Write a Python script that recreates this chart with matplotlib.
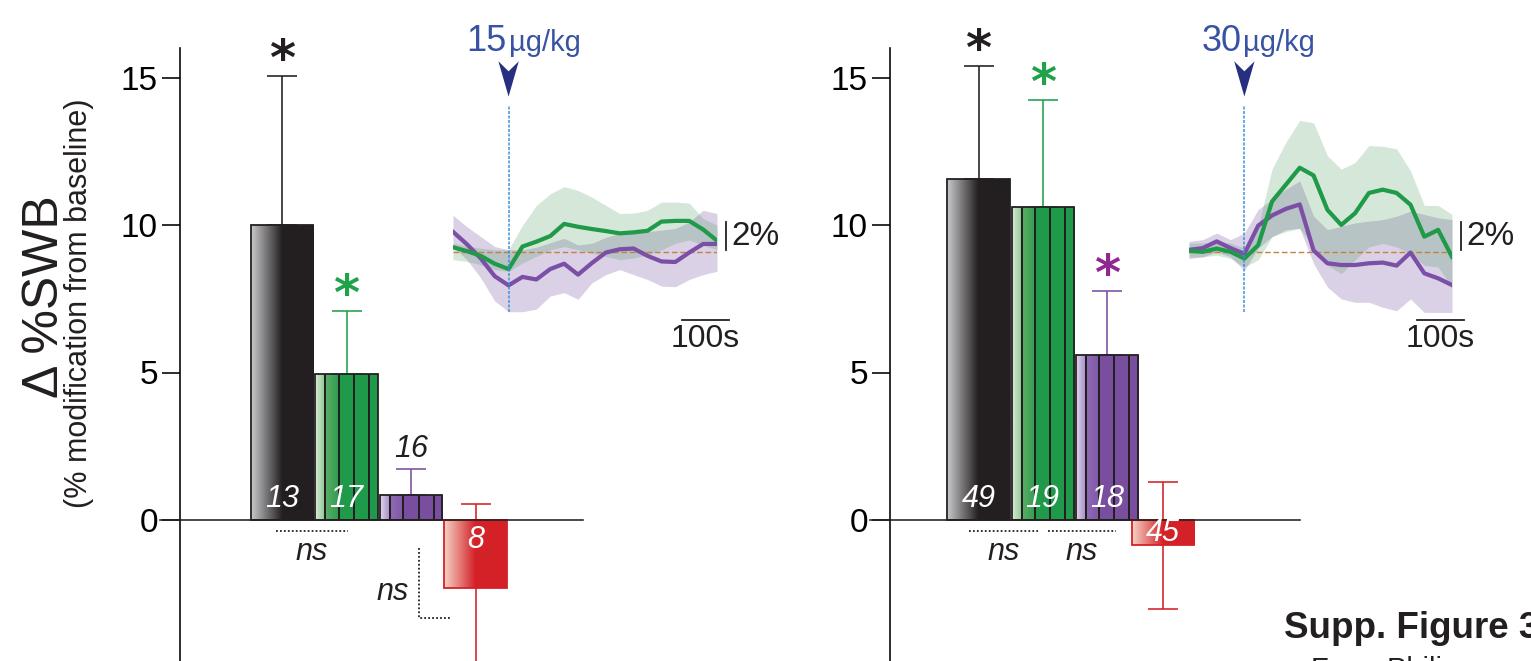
import numpy as np
import matplotlib
matplotlib.use("Agg")
import matplotlib.pyplot as plt
from matplotlib.colors import to_rgb
from matplotlib.patches import Polygon

plt.rcParams['font.family'] = ['Liberation Sans', 'DejaVu Sans']

# ---------------- data ----------------
bar_groups = ["black", "green", "purple", "red"]

dose15_label = "15"
dose15_mean = [10.0, 4.95, 0.85, -2.3]
dose15_sem = [5.05, 2.15, 0.88, 2.85]
dose15_n = ["13", "17", "16", "8"]
dose15_sig = [True, True, False, False]

dose30_label = "30"
dose30_mean = [11.55, 10.6, 5.6, -0.85]
dose30_sem = [3.85, 3.65, 2.15, 2.15]
dose30_n = ["49", "19", "18", "45"]
dose30_sig = [True, True, True, False]

ytick_values = [0, 5, 10, 15]

# inset time courses (% change of SWB), 30 s bins, injection at t = 0
trace_time = [-120, -90, -60, -30, 0, 30, 60, 90, 120, 150,
              180, 210, 240, 270, 300, 330, 360, 390, 420, 450]

green15 = [0.32, 0.05, -0.28, -0.83, -1.20, 0.37, 0.71, 1.10, 1.95, 1.75,
           1.59, 1.45, 1.29, 1.36, 1.47, 2.11, 2.16, 2.16, 1.56, 0.78]
green15_hi = [0.60, 0.41, 0.25, 0.14, 0.14, 1.86, 3.24, 4.05, 4.55, 4.28,
              3.82, 3.24, 2.67, 2.71, 2.90, 3.47, 3.47, 3.40, 2.32, 1.86]
green15_lo = [-0.55, -0.67, -0.90, -1.24, -1.36, -0.78, -0.32, 0.14, 0.37, 0.14,
              -0.09, -0.32, -0.55, -0.44, -0.21, 0.14, 0.60, 0.83, 0.48, 0.14]
purple15 = [1.40, 0.53, -0.46, -1.70, -2.34, -1.75, -1.93, -1.20, -0.83, -1.59,
            -0.78, -0.05, 0.18, 0.23, -0.28, -0.67, -0.71, -0.05, 0.55, 0.55]
purple15_hi = [2.55, 1.75, 1.06, 0.37, 0.14, 0.14, 0.32, 0.64, 0.94, 0.48,
               0.60, 1.01, 1.29, 1.33, 1.40, 1.52, 1.63, 2.09, 2.90, 2.67]
purple15_lo = [0.37, -0.55, -1.82, -3.43, -4.18, -4.18, -4.00, -3.08, -2.85, -3.31,
               -2.16, -1.59, -1.24, -1.59, -1.93, -2.39, -2.44, -1.93, -1.59, -1.36]

green30 = [0.07, 0.00, 0.23, 0.00, -0.47, 0.47, 3.52, 4.69, 5.87, 5.33,
           2.93, 1.88, 2.70, 4.11, 4.34, 4.11, 3.29, 1.06, 1.53, -0.35]
green30_hi = [0.61, 0.61, 0.73, 0.61, 0.26, 1.78, 5.77, 7.65, 9.18, 9.01,
              6.71, 5.77, 6.24, 7.42, 7.37, 7.18, 5.66, 3.24, 3.24, 2.61]
green30_lo = [-0.35, -0.35, -0.23, -0.47, -1.06, -0.56, 1.06, 1.41, 1.64, 0.35,
              -0.94, -1.53, -0.56, 0.35, 0.59, 0.35, -0.12, -0.94, -1.06, -2.46]
purple30 = [0.14, 0.26, 0.73, 0.26, -0.14, 1.83, 2.54, 3.00, 3.31, 0.10,
            -0.80, -0.92, -0.92, -0.80, -0.75, -0.96, -0.05, -1.50, -1.85, -2.32]
purple30_hi = [0.73, 0.85, 1.31, 0.85, 1.31, 2.96, 3.66, 4.37, 4.95, 2.49,
               1.55, 1.78, 2.02, 2.14, 2.25, 2.49, 2.84, 2.61, 2.37, 2.25]
purple30_lo = [-0.47, -0.35, 0.00, -0.35, -1.29, 0.26, 1.06, 1.55, 1.64, -0.82,
               -2.46, -3.29, -3.52, -3.52, -3.87, -4.11, -3.29, -4.23, -4.23, -4.23]

# ---------------- styles ----------------
W, H = 1531, 661
fig = plt.figure(figsize=(W / 100, H / 100), dpi=100)
PT = 72 / 100  # points per pixel

star_col = {"black": "#231f20", "green": "#1fa24a", "purple": "#92278f", "red": "#d42128"}
err_col = {"black": "#231f20", "green": "#22a04b", "purple": "#7b4fa0", "red": "#d42128"}
grad = {
    "black": [(0, "#c9cacc"), (0.5, "#231f20"), (1, "#231f20")],
    "green": [(0, "#d9ecd9"), (0.16, "#8cc590"), (0.1601, "#5cae66"), (0.38, "#2f9c50"),
              (0.3801, "#1f9a4a"), (1, "#1f9a4a")],
    "purple": [(0, "#e0d6ec"), (0.16, "#a58bc6"), (0.1601, "#8e6bb5"), (0.38, "#7f56a6"),
               (0.3801, "#7a4e9f"), (1, "#7a4e9f")],
    "red": [(0, "#f6d3c6"), (0.5, "#d42128"), (1, "#d42128")],
}
edge = {"black": "#231f20", "green": "#231f20", "purple": "#231f20", "red": "#d42128"}
stripes = {"black": [], "green": [0.16, 0.38, 0.62, 0.86],
           "purple": [0.16, 0.38, 0.62, 0.86], "red": []}


def add_axes_px(x0, y0, x1, y1):
    return fig.add_axes([x0 / W, 1 - y1 / H, (x1 - x0) / W, (y1 - y0) / H])


def grad_img(stops, n=256):
    f = np.linspace(0, 1, n)
    xs = [s[0] for s in stops]
    cols = np.array([to_rgb(s[1]) for s in stops])
    img = np.stack([np.interp(f, xs, cols[:, k]) for k in range(3)], axis=-1)
    return img[None, :, :]


def draw_panel(ax, pos, means, sems, ns_labels, sigs, xlim, ylim, width=0.97):
    ax.set_xlim(*xlim)
    ax.set_ylim(*ylim)
    for sp in ["top", "right", "bottom"]:
        ax.spines[sp].set_visible(False)
    ax.spines["left"].set_linewidth(1.6 * PT)
    ax.set_xticks([])
    ax.set_yticks(ytick_values)
    ax.set_yticklabels([str(v) for v in ytick_values])
    ax.tick_params(axis="y", length=18 * PT, width=1.6 * PT, labelsize=24, pad=3)
    ax.patch.set_alpha(0)
    # zero line extending left of the spine
    ext = (xlim[1] - xlim[0]) * 20 / (ax.get_position().width * W)
    ax.plot([xlim[0] - ext, xlim[1]], [0, 0], color="#231f20", lw=1.6 * PT,
            clip_on=False, zorder=4)
    for g, x, m, s, n, sig in zip(bar_groups, pos, means, sems, ns_labels, sigs):
        yerr = [[0], [s]] if m > 0 else [[s], [s]]
        ax.errorbar([x], [m], yerr=yerr, fmt="none", ecolor=err_col[g],
                    elinewidth=1.6 * PT, capsize=15 * PT, capthick=1.6 * PT,
                    zorder=1, clip_on=False)
        b = ax.bar([x], [m], width=width, facecolor="none", edgecolor=edge[g],
                   linewidth=1.8 * PT, zorder=3)[0]
        x0 = x - width / 2
        im = ax.imshow(grad_img(grad[g]), extent=[x0, x0 + width, min(0, m), max(0, m)],
                       aspect="auto", interpolation="bilinear", zorder=2)
        im.set_clip_path(b)
        for f in stripes[g]:
            ax.vlines(x0 + f * width, 0, m, color="#231f20", lw=2.0 * PT, zorder=3)
        if m > 2:
            ax.text(x, 0.72, n, color="white", style="italic", fontsize=22,
                    ha="center", va="center", zorder=5)
        elif m > 0:
            ax.annotate(n, (x, m + s), xytext=(0, 20 * PT), textcoords="offset points",
                        style="italic", fontsize=22, ha="center", va="center",
                        color="#231f20")
        else:
            ax.text(x, max(m / 2, -0.68), n, color="white", style="italic",
                    fontsize=22, ha="center", va="center", zorder=5)
        if sig:
            ax.annotate("*", (x, m + s), xytext=(0, 15 * PT), textcoords="offset points",
                        fontsize=36, family="DejaVu Sans", weight="bold",
                        ha="center", va="center", color=star_col[g],
                        annotation_clip=False)
    ax.set_xlim(*xlim)
    ax.set_ylim(*ylim)


def ns_mark(ax, xa, xb, y=-0.37):
    ax.plot([xa, xb], [y, y], ls=(0, (1, 1.2)), color="#231f20", lw=1.8 * PT,
            clip_on=False, zorder=4)
    ax.text((xa + xb) / 2, y - 0.72, "ns", style="italic", fontsize=22,
            ha="center", va="center", color="#231f20")


def draw_inset(axi, g, glo, ghi, p, plo, phi, dose, label_dx):
    t = trace_time
    axi.fill_between(t, plo, phi, color="#7b5aa8", alpha=0.28, lw=0, zorder=1)
    axi.fill_between(t, glo, ghi, color="#2e8b3e", alpha=0.2, lw=0, zorder=2)
    axi.axhline(0, color="#c8803e", lw=1.4 * PT, ls=(0, (4, 2)), zorder=3)
    axi.plot(t, p, color="#7b4fa6", lw=4.2 * PT, zorder=4)
    axi.plot(t, g, color="#1f9a48", lw=4.2 * PT, zorder=5)
    axi.axvline(0, color="#3d8fd6", lw=1.5 * PT, ls=(0, (2, 1)), zorder=6)
    axi.set_xlim(t[0], t[-1])
    axi.set_ylim(-4.2, 10.25)
    axi.axis("off")
    # arrow head above injection line
    axi.add_patch(Polygon([(-22, 13.3), (0, 12.6), (22, 13.3), (0, 10.84)],
                          closed=True, color="#262f80", clip_on=False, lw=0))
    axi.text(label_dx, 14.0, dose, color="#3953a4", fontsize=26, ha="right",
             va="baseline", clip_on=False)
    axi.text(label_dx + 4, 14.0, "µg/kg", color="#3953a4", fontsize=21, ha="left",
             va="baseline", clip_on=False)
    # scale bars
    xs = t[-1] + 20
    axi.plot([xs, xs], [0.1, 2.1], color="#231f20", lw=1.8 * PT, clip_on=False)
    axi.text(xs + 12, 1.1, "2%", fontsize=24, ha="left", va="center",
             color="#231f20", clip_on=False)
    axi.plot([t[-1] - 75, t[-1] + 25], [-4.75, -4.75], color="#231f20",
             lw=1.8 * PT, clip_on=False)
    axi.text(t[-1] - 25, -5.05, "100s", fontsize=23, ha="center", va="top",
             color="#231f20", clip_on=False)


ylim_main = (-141 / 29.5, 472 / 29.5)

# ---------------- left panel (15 µg/kg) ----------------
ax1 = add_axes_px(180, 48, 583, 661)
pos1 = [0, 1, 2, 3]
draw_panel(ax1, pos1, dose15_mean, dose15_sem, dose15_n, dose15_sig,
           (-102 / 64.5, 301 / 64.5), ylim_main)
ns_mark(ax1, -0.09, 1.02)
ax1.plot([2.12, 2.12, 2.6], [-0.95, -3.32, -3.32], ls=(0, (1, 1.2)), color="#231f20",
         lw=1.8 * PT, clip_on=False)
ax1.text(1.71, -2.44, "ns", style="italic", fontsize=22, ha="center", va="center",
         color="#231f20")

# ---------------- right panel (30 µg/kg) ----------------
ax2 = add_axes_px(890, 48, 1300, 661)
pos2 = [0, 1, 2, 2.87]
draw_panel(ax2, pos2, dose30_mean, dose30_sem, dose30_n, dose30_sig,
           ((890 - 978.5) / 64.2, (1300 - 978.5) / 64.2), ylim_main)
ns_mark(ax2, -0.15, 0.92)
ns_mark(ax2, 1.08, 2.14)

# ---------------- insets ----------------
axi1 = add_axes_px(453, 105, 717, 312)
draw_inset(axi1, green15, green15_lo, green15_hi, purple15, purple15_lo, purple15_hi,
           dose15_label, -4)
axi2 = add_axes_px(1189, 105, 1452, 312)
draw_inset(axi2, green30, green30_lo, green30_hi, purple30, purple30_lo, purple30_hi,
           dose30_label, -6)

# ---------------- axis titles & caption ----------------
fig.text(45 / W, 1 - 297 / H, "Δ %SWB", rotation=90, fontsize=36, ha="center",
         va="center", color="#231f20")
fig.text(79 / W, 1 - 303 / H, "(% modification from baseline)", rotation=90,
         fontsize=22, ha="center", va="center", color="#231f20")
fig.text(1284 / W, 1 - 638 / H, "Supp. Figure 3", fontsize=26.5, weight="bold",
         ha="left", va="baseline", color="#231f20")
fig.text(1311 / W, 1 - 678 / H, "From Philippe", fontsize=21,
         ha="left", va="baseline", color="#231f20")

fig.savefig("out.png", dpi=100)
